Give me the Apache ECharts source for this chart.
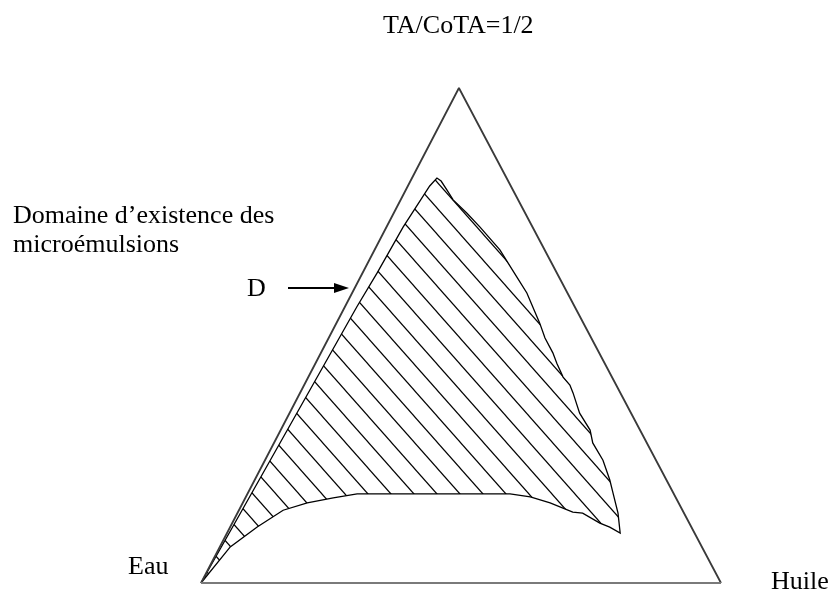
<!DOCTYPE html>
<html>
<head>
<meta charset="utf-8">
<script src="https://cdn.jsdelivr.net/npm/echarts@6/dist/echarts.min.js"></script>
<style>
  html, body { margin: 0; padding: 0; background: #ffffff; }
  #chart { width: 831px; height: 590px; }
</style>
</head>
<body>
<div id="chart"></div>
<script>
// Compositions are given in % as [Eau, Huile, TA/CoTA]
const vertexNames = ['Eau', 'Huile', 'TA/CoTA'];
const vertices = [[100, 0, 0], [0, 100, 0], [0, 0, 100]];

// Boundary of the microemulsion domain, traced from the water corner
const domainLeftEdge = [
  [100, 0, 0], [41.9, 2.3, 55.8], [34.6, 2.8, 62.6], [24.9, 3.2, 71.9], [15.6, 4.2, 80.2]
];
const domainUpperRightEdge = [
  [13.4, 4.8, 81.8], [12.9, 5.9, 81.2], [12.7, 7.9, 79.4], [12.6, 10.1, 77.4],
  [11.2, 14.1, 74.7], [10.1, 18.0, 71.9], [8.6, 24.1, 67.3], [8.1, 30.1, 61.8],
  [7.8, 33.6, 58.6], [8.3, 39.1, 52.5], [8.9, 41.6, 49.5], [8.9, 44.6, 46.5],
  [9.2, 46.4, 44.4], [9.4, 49.0, 41.6], [8.9, 51.1, 40.0], [9.1, 52.5, 38.4],
  [9.8, 55.8, 34.3], [9.6, 59.5, 30.9], [10.4, 61.3, 28.3], [10.2, 65.0, 24.8],
  [10.9, 68.3, 20.8], [11.6, 70.2, 18.2], [12.7, 73.2, 14.1], [14.3, 75.6, 10.1]
];
const domainLowerEdge = [
  [15.7, 73.0, 11.3], [17.2, 70.7, 12.1], [19.4, 66.4, 14.1], [21.2, 64.4, 14.3],
  [24.7, 59.1, 16.2], [28.0, 54.7, 17.4], [31.5, 50.5, 18.0], [60.9, 21.1, 18.0],
  [66.0, 16.9, 17.2], [71.5, 12.4, 16.2], [76.8, 8.5, 14.7], [83.5, 5.2, 11.3],
  [90.8, 2.0, 7.3]
];

const titleText = 'TA/CoTA=1/2';
const domainLabel = ['Domaine d\u2019existence des', 'microémulsions'];
const lineLabel = 'D';

// Horizontal position of the TA/CoTA apex along the base (fraction of the base)
const apexX = 0.496;
function toXY(c) {
  return [(c[1] + c[2] * apexX) / 100, c[2] / 100];
}

// Diagonal hatching tile: a single line running corner to corner
function hatchTile(w, h, color, lw) {
  const cv = document.createElement('canvas');
  cv.width = w; cv.height = h;
  const g = cv.getContext('2d');
  g.strokeStyle = color;
  g.lineWidth = lw;
  for (const dx of [-w, 0, w]) {
    g.beginPath();
    g.moveTo(dx - w, -h);
    g.lineTo(dx + 2 * w, 2 * h);
    g.stroke();
  }
  return cv;
}
const hatch = { image: hatchTile(23, 26, '#000000', 1.2), repeat: 'repeat' };

const domainXY = domainLeftEdge.concat(domainUpperRightEdge, domainLowerEdge).map(toXY);
const sidesXY = [vertices[1], vertices[2], vertices[0]].map(toXY);
const baseXY = [vertices[0], vertices[1]].map(toXY);

const FONT = '26px "Liberation Serif", "Times New Roman", serif';

const chart = echarts.init(document.getElementById('chart'), null, { renderer: 'canvas' });
chart.setOption({
  backgroundColor: '#ffffff',
  animation: false,
  grid: { left: 201, top: 88, width: 520, height: 495, containLabel: false },
  xAxis: { type: 'value', min: 0, max: 1, show: false },
  yAxis: { type: 'value', min: 0, max: 1, show: false },
  series: [
    {
      type: 'custom',
      coordinateSystem: 'cartesian2d',
      silent: true,
      data: domainXY,
      renderItem: function (params, api) {
        if (params.dataIndex !== 0) return null;
        const pts = domainXY.map(p => api.coord(p));
        return {
          type: 'polygon',
          shape: { points: pts },
          style: { fill: hatch, stroke: '#000000', lineWidth: 1.3 }
        };
      },
      z: 2
    },
    {
      type: 'line',
      data: sidesXY,
      symbol: 'none',
      silent: true,
      lineStyle: { color: '#3a3a3a', width: 1.8 },
      z: 3
    },
    {
      type: 'line',
      data: baseXY,
      symbol: 'none',
      silent: true,
      lineStyle: { color: '#7a7a7a', width: 2.2 },
      z: 3
    }
  ],
  graphic: [
    { type: 'text', left: 383, top: 13, style: { text: titleText, font: FONT, fill: '#000' } },
    { type: 'text', left: 13, top: 203, style: { text: domainLabel[0], font: FONT, fill: '#000' } },
    { type: 'text', left: 13, top: 232, style: { text: domainLabel[1], font: FONT, fill: '#000' } },
    { type: 'text', left: 247, top: 276, style: { text: lineLabel, font: FONT, fill: '#000' } },
    { type: 'text', left: 128, top: 554, style: { text: vertexNames[0], font: FONT, fill: '#000' } },
    { type: 'text', left: 771, top: 569, style: { text: vertexNames[1], font: FONT, fill: '#000' } },
    {
      type: 'line', shape: { x1: 288, y1: 288, x2: 338, y2: 288 },
      style: { stroke: '#000', lineWidth: 2 }
    },
    {
      type: 'polygon', shape: { points: [[334, 283], [349, 288], [334, 293]] },
      style: { fill: '#000' }
    }
  ]
});
</script>
</body>
</html>
